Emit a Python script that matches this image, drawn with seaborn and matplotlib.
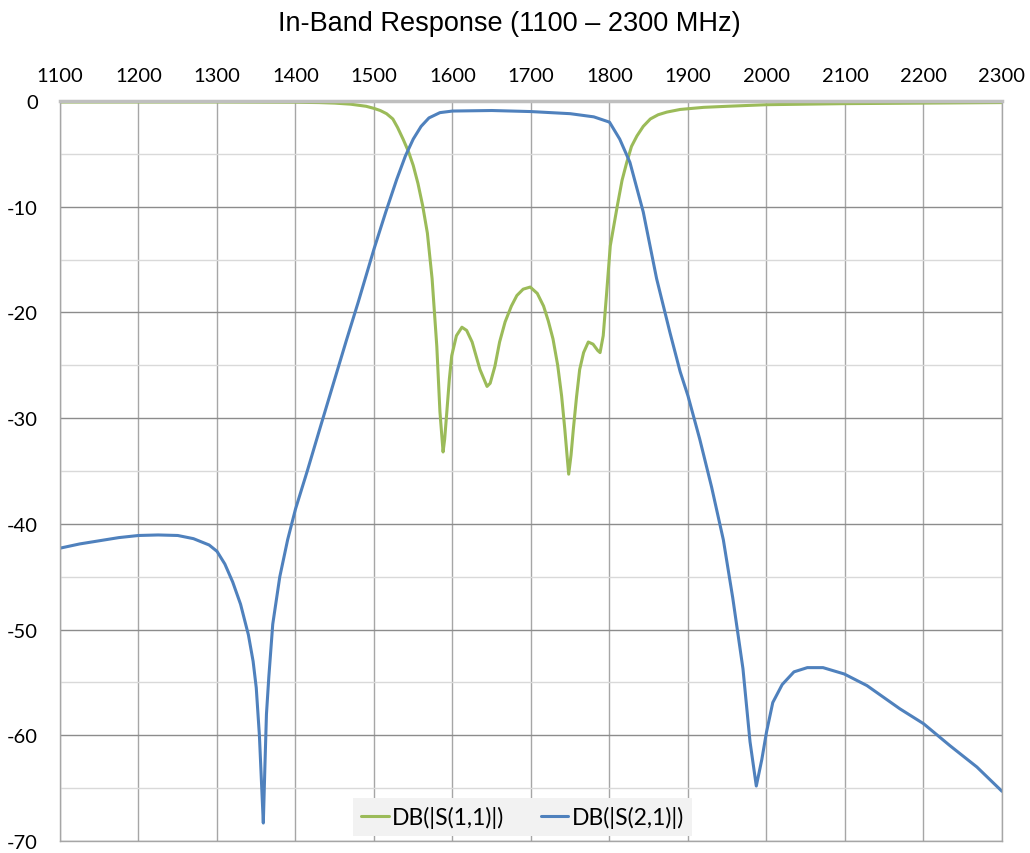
import numpy as np
import pandas as pd
import matplotlib
matplotlib.use('Agg')
import matplotlib.pyplot as plt
from matplotlib.ticker import MultipleLocator
import seaborn as sns

# S(2,1) - transmission (blue)
s21_freq = [1100, 1125, 1150, 1175, 1200, 1225, 1250, 1270, 1290, 1300, 1310, 1320,
            1330, 1340, 1346, 1350, 1354, 1357, 1359, 1361, 1363, 1366, 1371, 1380,
            1390, 1400, 1415, 1431, 1450, 1465, 1480, 1500, 1515, 1529, 1540, 1550,
            1560, 1570, 1584, 1600, 1650, 1700, 1750, 1780, 1800, 1813, 1826, 1843,
            1860, 1877, 1890, 1900, 1915, 1930, 1945, 1957, 1970, 1979, 1987, 1994,
            2000, 2008, 2020, 2035, 2052, 2072, 2099, 2128, 2170, 2200, 2234, 2268, 2300]
s21_db = [-42.3, -41.9, -41.6, -41.3, -41.1, -41.05, -41.1, -41.4, -42.0, -42.6, -43.8, -45.5,
          -47.6, -50.5, -53.0, -55.5, -60.0, -65.0, -68.3, -63.0, -58.0, -54.5, -49.5, -45.0,
          -41.5, -38.6, -35.0, -31.0, -26.3, -22.6, -19.0, -14.0, -10.5, -7.4, -5.2, -3.6,
          -2.4, -1.6, -1.1, -0.95, -0.9, -1.0, -1.2, -1.5, -2.0, -3.6, -5.8, -10.5,
          -16.8, -21.9, -25.6, -27.9, -32.0, -36.5, -41.5, -47.0, -53.7, -60.6, -64.8, -62.3,
          -59.7, -56.9, -55.2, -54.0, -53.6, -53.6, -54.2, -55.3, -57.5, -58.9, -61.0, -63.0, -65.3]

# S(1,1) - reflection (green)
s11_freq = [1100, 1200, 1300, 1400, 1430, 1450, 1470, 1490, 1500, 1508, 1516, 1524,
            1530, 1537, 1544, 1550, 1556, 1562, 1568, 1574, 1580, 1584, 1588, 1590,
            1593, 1596, 1599, 1605, 1612, 1618, 1625, 1635, 1644, 1648, 1654, 1660,
            1667, 1675, 1682, 1690, 1699, 1708, 1716, 1722, 1728, 1734, 1739, 1743,
            1746, 1748, 1751, 1754, 1758, 1762, 1767, 1773, 1779, 1785, 1788, 1792,
            1796, 1801, 1810, 1816, 1822, 1828, 1835, 1843, 1852, 1862, 1873, 1890,
            1920, 1950, 2000, 2050, 2100, 2200, 2300]
s11_db = [-0.1, -0.1, -0.1, -0.12, -0.15, -0.2, -0.3, -0.5, -0.7, -0.9, -1.2, -1.7,
          -2.5, -3.6, -4.8, -6.1, -7.8, -9.9, -12.5, -16.8, -23.2, -29.4, -33.2, -32.0,
          -29.2, -26.3, -24.1, -22.2, -21.4, -21.7, -22.8, -25.4, -27.0, -26.7, -25.1, -22.8,
          -20.9, -19.4, -18.4, -17.8, -17.6, -18.2, -19.4, -20.8, -22.5, -25.0, -27.9, -31.0,
          -33.6, -35.3, -33.5, -31.0, -28.0, -25.4, -23.8, -22.8, -23.0, -23.6, -23.8, -22.2,
          -18.5, -13.7, -9.9, -7.5, -5.8, -4.3, -3.3, -2.4, -1.7, -1.3, -1.05, -0.8,
          -0.6, -0.5, -0.35, -0.3, -0.25, -0.2, -0.15]

series_names = ['DB(|S(1,1)|)', 'DB(|S(2,1)|)']
x_ticks = list(range(1100, 2301, 100))
y_ticks = list(range(-70, 1, 10))

df = pd.concat([
    pd.DataFrame({'freq': s11_freq, 'db': s11_db, 'trace': series_names[0]}),
    pd.DataFrame({'freq': s21_freq, 'db': s21_db, 'trace': series_names[1]}),
], ignore_index=True)

sns.set_style('white')
plt.rcParams['font.family'] = ['Lato', 'DejaVu Sans']
plt.rcParams['axes.unicode_minus'] = False
plt.rcParams['text.color'] = 'black'
plt.rcParams['xtick.color'] = 'black'
plt.rcParams['ytick.color'] = 'black'

fig = plt.figure(figsize=(10.3, 8.54), dpi=100)
ax = fig.add_axes([60 / 1030, 1 - 842 / 854, 942 / 1030, 740 / 854])

sns.lineplot(data=df, x='freq', y='db', hue='trace', sort=False, estimator=None,
             palette={series_names[0]: '#9bbb59', series_names[1]: '#4f81bd'},
             linewidth=2.2, ax=ax)

ax.set_xlim(1100, 2300)
ax.set_ylim(-70, 0)
ax.set_xticks(x_ticks)
ax.set_yticks(y_ticks)
ax.yaxis.set_minor_locator(MultipleLocator(5))
ax.xaxis.tick_top()
ax.tick_params(axis='x', which='both', length=0, pad=12, labelsize=14.5)
ax.tick_params(axis='y', which='both', length=0, pad=16, labelsize=14.5)
ax.set_xlabel('')
ax.set_ylabel('')

# Excel-like gridlines
ax.grid(True, which='major', axis='y', color='#8c8c8c', linewidth=1.0)
ax.grid(True, which='minor', axis='y', color='#d9d9d9', linewidth=1.0)
ax.grid(True, which='major', axis='x', color='#a6a6a6', linewidth=1.0)
ax.set_axisbelow(True)
for side in ['left', 'right', 'bottom']:
    ax.spines[side].set_color('#a6a6a6')
    ax.spines[side].set_linewidth(1.0)
ax.spines['top'].set_color('#bfbfbf')
ax.spines['top'].set_linewidth(2.5)

leg = ax.legend(loc='lower center', bbox_to_anchor=(0.491, 0.007), ncol=2,
                frameon=True, fancybox=False, fontsize=16.5, handlelength=1.2,
                handletextpad=0.15, columnspacing=1.6, borderaxespad=0,
                borderpad=0.35)
leg.get_frame().set_facecolor('#f2f2f2')
leg.get_frame().set_edgecolor('none')
leg.get_frame().set_alpha(1)

fig.text(0.494, 0.972, 'In-Band Response (1100 \u2013 2300 MHz)', ha='center', va='center',
         fontsize=19.5, color='black', family=['Liberation Sans', 'DejaVu Sans'])

fig.savefig('out.png', dpi=100)
